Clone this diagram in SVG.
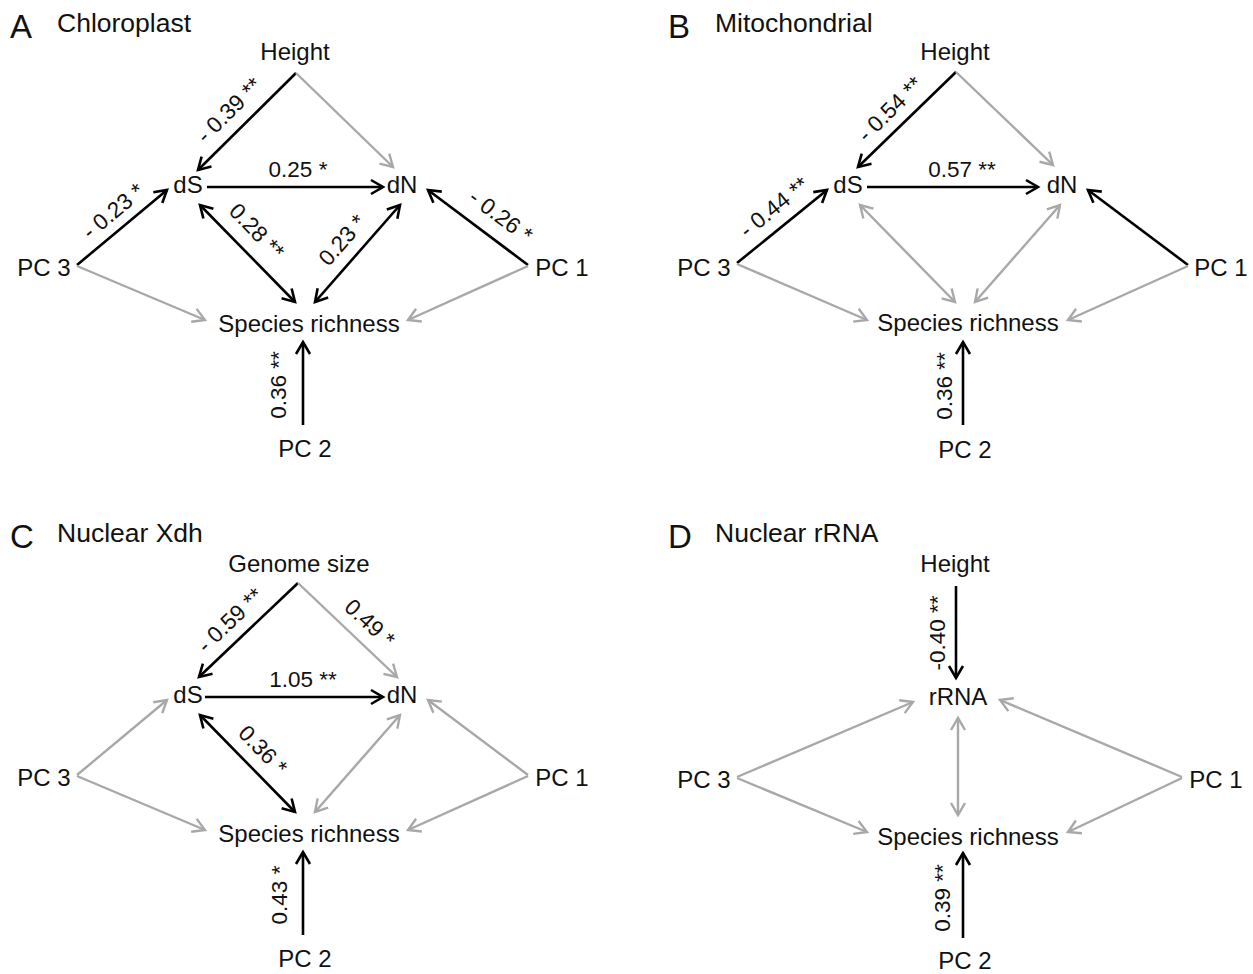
<svg xmlns="http://www.w3.org/2000/svg" width="1253" height="974" viewBox="0 0 1253 974">
<style>
text{font-family:"Liberation Sans",Arial,sans-serif;fill:#111}
.n{font-size:24px;text-anchor:middle}
.e{font-size:22.5px;text-anchor:middle}
.t{font-size:26.5px}
.p{font-size:33px}
.k{stroke:#000;stroke-width:2.6;fill:none}
.g{stroke:#a8a8a8;stroke-width:2.4;fill:none}
</style>
<defs>
<marker id="ak" markerUnits="userSpaceOnUse" markerWidth="30" markerHeight="30" refX="0" refY="0" orient="auto-start-reverse" overflow="visible"><path d="M-12,-7 L0,0 L-12,7" fill="none" stroke="#000" stroke-width="2.6"/></marker>
<marker id="ag" markerUnits="userSpaceOnUse" markerWidth="30" markerHeight="30" refX="0" refY="0" orient="auto-start-reverse" overflow="visible"><path d="M-12,-7 L0,0 L-12,7" fill="none" stroke="#a8a8a8" stroke-width="2.4"/></marker>
</defs>
<rect width="1253" height="974" fill="#fff"/>

<!-- Panel A -->
<g id="panelA">
<text class="p" x="10" y="38">A</text>
<text class="t" x="57" y="32">Chloroplast</text>
<g id="connectorsA">
<line class="k" x1="296" y1="73" x2="198" y2="170" marker-end="url(#ak)"/>
<line class="g" x1="296" y1="73" x2="393" y2="167" marker-end="url(#ag)"/>
<line class="k" x1="207" y1="187" x2="383" y2="187" marker-end="url(#ak)"/>
<line class="k" x1="77" y1="265" x2="167" y2="190" marker-end="url(#ak)"/>
<line class="g" x1="77" y1="266" x2="205" y2="320" marker-end="url(#ag)"/>
<line class="k" x1="200" y1="205" x2="295" y2="302" marker-start="url(#ak)" marker-end="url(#ak)"/>
<line class="k" x1="400" y1="205" x2="315" y2="302" marker-start="url(#ak)" marker-end="url(#ak)"/>
<line class="k" x1="528" y1="265" x2="428" y2="190" marker-end="url(#ak)"/>
<line class="g" x1="528" y1="266" x2="408" y2="320" marker-end="url(#ag)"/>
<line class="k" x1="303" y1="425" x2="303" y2="342" marker-end="url(#ak)"/>
<text class="e" transform="translate(229,110) rotate(-45)" dy="0.35em">- 0.39 **</text>
<text class="e" x="298" y="177">0.25 *</text>
<text class="e" transform="translate(113,211) rotate(-40)" dy="0.35em">- 0.23 *</text>
<text class="e" transform="translate(257,231) rotate(46)" dy="0.35em">0.28 **</text>
<text class="e" transform="translate(342,240) rotate(-49)" dy="0.35em">0.23 *</text>
<text class="e" transform="translate(501,216) rotate(37)" dy="0.35em">- 0.26 *</text>
<text class="e" transform="translate(278,385) rotate(-90)" dy="0.35em">0.36 **</text>
</g>
<g id="A-height"><text class="n" x="295" y="60">Height</text></g>
<g id="A-dS"><text class="n" x="188" y="193">dS</text></g>
<g id="A-dN"><text class="n" x="402" y="193">dN</text></g>
<g id="A-pc3"><text class="n" x="44" y="276">PC 3</text></g>
<g id="A-pc1"><text class="n" x="562" y="276">PC 1</text></g>
<g id="A-sr"><text class="n" x="309" y="332">Species richness</text></g>
<g id="A-pc2"><text class="n" x="305" y="457">PC 2</text></g>
</g>

<!-- Panel B -->
<g id="panelB">
<text class="p" x="668" y="38">B</text>
<text class="t" x="715" y="32">Mitochondrial</text>
<g id="connectorsB">
<line class="k" x1="956" y1="72" x2="858" y2="167" marker-end="url(#ak)"/>
<line class="g" x1="956" y1="72" x2="1053" y2="165" marker-end="url(#ag)"/>
<line class="k" x1="867" y1="187" x2="1038" y2="187" marker-end="url(#ak)"/>
<line class="k" x1="737" y1="263" x2="827" y2="190" marker-end="url(#ak)"/>
<line class="g" x1="737" y1="264" x2="867" y2="320" marker-end="url(#ag)"/>
<line class="g" x1="860" y1="205" x2="955" y2="302" marker-start="url(#ag)" marker-end="url(#ag)"/>
<line class="g" x1="1060" y1="205" x2="975" y2="302" marker-start="url(#ag)" marker-end="url(#ag)"/>
<line class="k" x1="1188" y1="265" x2="1088" y2="190" marker-end="url(#ak)"/>
<line class="g" x1="1188" y1="266" x2="1068" y2="320" marker-end="url(#ag)"/>
<line class="k" x1="963" y1="425" x2="963" y2="342" marker-end="url(#ak)"/>
<text class="e" transform="translate(890,109) rotate(-45)" dy="0.35em">- 0.54 **</text>
<text class="e" x="962" y="177">0.57 **</text>
<text class="e" transform="translate(774,207) rotate(-39)" dy="0.35em">- 0.44 **</text>
<text class="e" transform="translate(944,386) rotate(-90)" dy="0.35em">0.36 **</text>
</g>
<g id="B-height"><text class="n" x="955" y="60">Height</text></g>
<g id="B-dS"><text class="n" x="848" y="193">dS</text></g>
<g id="B-dN"><text class="n" x="1062" y="193">dN</text></g>
<g id="B-pc3"><text class="n" x="704" y="276">PC 3</text></g>
<g id="B-pc1"><text class="n" x="1221" y="276">PC 1</text></g>
<g id="B-sr"><text class="n" x="968" y="331">Species richness</text></g>
<g id="B-pc2"><text class="n" x="965" y="458">PC 2</text></g>
</g>

<!-- Panel C -->
<g id="panelC">
<text class="p" x="10" y="548">C</text>
<text class="t" x="57" y="542">Nuclear Xdh</text>
<g id="connectorsC">
<line class="k" x1="298" y1="583" x2="199" y2="677" marker-end="url(#ak)"/>
<line class="g" x1="298" y1="583" x2="397" y2="677" marker-end="url(#ag)"/>
<line class="k" x1="205" y1="697" x2="383" y2="697" marker-end="url(#ak)"/>
<line class="g" x1="77" y1="775" x2="167" y2="700" marker-end="url(#ag)"/>
<line class="g" x1="77" y1="776" x2="205" y2="830" marker-end="url(#ag)"/>
<line class="k" x1="200" y1="715" x2="295" y2="812" marker-start="url(#ak)" marker-end="url(#ak)"/>
<line class="g" x1="400" y1="715" x2="315" y2="812" marker-start="url(#ag)" marker-end="url(#ag)"/>
<line class="g" x1="528" y1="775" x2="428" y2="700" marker-end="url(#ag)"/>
<line class="g" x1="528" y1="776" x2="408" y2="830" marker-end="url(#ag)"/>
<line class="k" x1="303" y1="935" x2="303" y2="852" marker-end="url(#ak)"/>
<text class="e" transform="translate(230,620) rotate(-44)" dy="0.35em">- 0.59 **</text>
<text class="e" transform="translate(370,623) rotate(43)" dy="0.35em">0.49 *</text>
<text class="e" x="303" y="687">1.05 **</text>
<text class="e" transform="translate(263,750) rotate(46)" dy="0.35em">0.36 *</text>
<text class="e" transform="translate(279,895) rotate(-90)" dy="0.35em">0.43 *</text>
</g>
<g id="C-genome"><text class="n" x="299" y="572">Genome size</text></g>
<g id="C-dS"><text class="n" x="188" y="703">dS</text></g>
<g id="C-dN"><text class="n" x="402" y="703">dN</text></g>
<g id="C-pc3"><text class="n" x="44" y="786">PC 3</text></g>
<g id="C-pc1"><text class="n" x="562" y="786">PC 1</text></g>
<g id="C-sr"><text class="n" x="309" y="842">Species richness</text></g>
<g id="C-pc2"><text class="n" x="305" y="967">PC 2</text></g>
</g>

<!-- Panel D -->
<g id="panelD">
<text class="p" x="668" y="548">D</text>
<text class="t" x="715" y="542">Nuclear rRNA</text>
<g id="connectorsD">
<line class="k" x1="956" y1="586" x2="956" y2="678" marker-end="url(#ak)"/>
<line class="g" x1="737" y1="777" x2="913" y2="702" marker-end="url(#ag)"/>
<line class="g" x1="1182" y1="777" x2="1000" y2="700" marker-end="url(#ag)"/>
<line class="g" x1="958" y1="718" x2="958" y2="815" marker-start="url(#ag)" marker-end="url(#ag)"/>
<line class="g" x1="737" y1="778" x2="867" y2="832" marker-end="url(#ag)"/>
<line class="g" x1="1182" y1="778" x2="1068" y2="832" marker-end="url(#ag)"/>
<line class="k" x1="963" y1="938" x2="963" y2="853" marker-end="url(#ak)"/>
<text class="e" transform="translate(937,633) rotate(-90)" dy="0.35em">-0.40 **</text>
<text class="e" transform="translate(942,898) rotate(-90)" dy="0.35em">0.39 **</text>
</g>
<g id="D-height"><text class="n" x="955" y="572">Height</text></g>
<g id="D-rRNA"><text class="n" x="958" y="705">rRNA</text></g>
<g id="D-pc3"><text class="n" x="704" y="788">PC 3</text></g>
<g id="D-pc1"><text class="n" x="1216" y="788">PC 1</text></g>
<g id="D-sr"><text class="n" x="968" y="845">Species richness</text></g>
<g id="D-pc2"><text class="n" x="965" y="969">PC 2</text></g>
</g>
</svg>
